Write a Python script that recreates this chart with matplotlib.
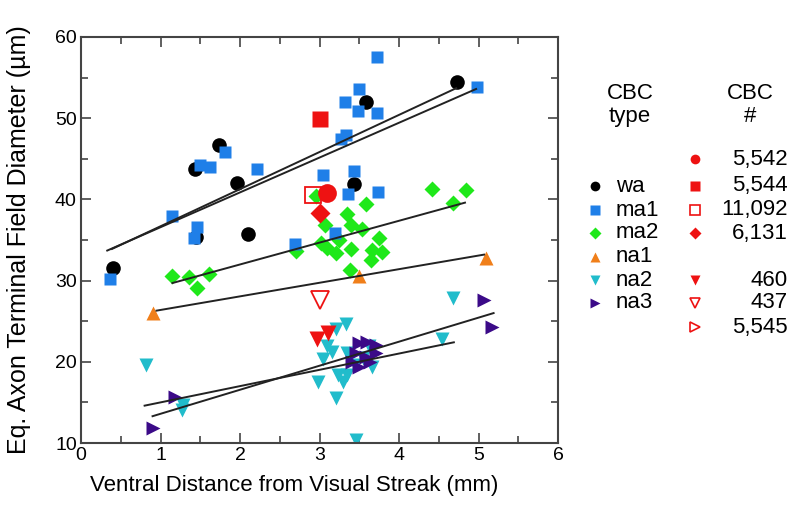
import matplotlib
matplotlib.use("Agg")
import matplotlib.pyplot as plt
import numpy as np

plt.rcParams['font.family'] = ['Liberation Sans', 'DejaVu Sans']

# ---------------- data ----------------
wa_x = [0.40, 1.45, 2.10, 1.44, 1.74, 1.96, 3.43, 3.59, 4.73]
wa_y = [31.5, 35.4, 35.7, 43.7, 46.7, 42.0, 41.9, 52.0, 54.5]

ma1_x = [0.36, 1.15, 1.42, 1.46, 1.50, 1.62, 1.81, 2.21, 2.69, 3.05, 3.19, 3.27, 3.33,
         3.32, 3.36, 3.44, 3.49, 3.50, 3.72, 3.72, 3.73, 4.98]
ma1_y = [30.2, 37.9, 35.2, 36.6, 44.2, 44.0, 45.8, 43.7, 34.5, 43.0, 35.9, 47.5, 47.9,
         52.0, 40.7, 43.5, 50.9, 53.6, 57.5, 50.6, 40.9, 53.9]

ma2_x = [1.15, 1.36, 1.46, 1.61, 2.70, 2.95, 3.58, 3.35, 3.07, 3.40, 3.53, 3.25, 3.75,
         3.02, 3.10, 3.21, 3.39, 3.66, 3.79, 3.65, 3.38, 4.42, 4.84, 4.68]
ma2_y = [30.6, 30.4, 29.1, 30.8, 33.6, 40.4, 39.4, 38.2, 36.8, 36.8, 36.3, 35.0, 35.2,
         34.6, 34.0, 33.4, 33.9, 33.8, 33.5, 32.5, 31.3, 41.3, 41.2, 39.5]

na1_x = [0.90, 3.50, 5.09]
na1_y = [26.0, 30.6, 32.8]

na2_x = [0.82, 1.28, 1.27, 2.98, 3.05, 3.10, 3.16, 3.21, 3.33, 3.21, 3.23, 3.29, 3.35,
         3.35, 3.45, 3.55, 3.66, 3.62, 3.46, 4.54, 4.68]
na2_y = [19.6, 14.7, 14.1, 17.5, 20.3, 22.0, 21.2, 24.1, 24.6, 15.5, 18.4, 17.5, 18.4,
         21.1, 19.6, 20.5, 19.4, 22.0, 10.4, 22.8, 27.8]

na3_x = [0.90, 1.18, 3.41, 3.46, 3.50, 3.50, 3.59, 3.60, 3.63, 3.71, 3.71, 5.07, 5.17]
na3_y = [11.9, 15.7, 20.0, 21.1, 22.3, 19.4, 20.6, 22.4, 20.0, 22.1, 21.1, 27.6, 24.3]

# fit lines (endpoints)
fit_wa_x = [0.39, 4.72];  fit_wa_y = [33.9, 53.7]
fit_ma1_x = [0.33, 4.97]; fit_ma1_y = [33.7, 53.6]
fit_ma2_x = [1.15, 4.83]; fit_ma2_y = [29.7, 39.6]
fit_na1_x = [0.95, 5.07]; fit_na1_y = [26.3, 33.2]
fit_na2_x = [0.80, 4.69]; fit_na2_y = [14.6, 22.4]
fit_na3_x = [0.90, 5.19]; fit_na3_y = [13.3, 26.0]

# identified cells (CBC #)
c5542_x, c5542_y = [3.10], [40.8]
c5544_x, c5544_y = [3.00], [49.9]
c11092_x, c11092_y = [2.92], [40.6]
c6131_x, c6131_y = [3.00], [38.3]
c460_x, c460_y = [2.97, 3.11], [22.8, 23.6]
c437_x, c437_y = [3.00], [27.6]

type_labels = ['wa', 'ma1', 'ma2', 'na1', 'na2', 'na3']
cbc_labels = ['5,542', '5,544', '11,092', '6,131', '460', '437', '5,545']

# ---------------- styles ----------------
C_WA = 'black'
C_MA1 = '#1f7fe8'
C_MA2 = '#1fe81a'
C_NA1 = '#f07f1a'
C_NA2 = '#21bccb'
C_NA3 = '#3b0a88'
C_RED = '#ee1212'

fig = plt.figure(figsize=(8, 5.15), dpi=100)
ax = fig.add_axes([81/800, 72/515, 477/800, 406/515])

for fx, fy in [(fit_wa_x, fit_wa_y), (fit_ma1_x, fit_ma1_y), (fit_ma2_x, fit_ma2_y),
               (fit_na1_x, fit_na1_y), (fit_na2_x, fit_na2_y), (fit_na3_x, fit_na3_y)]:
    ax.plot(fx, fy, color='#222222', lw=1.4, zorder=3)

ax.plot(ma2_x, ma2_y, 'D', color=C_MA2, ms=8.5, mec='none', zorder=2)
ax.plot(wa_x, wa_y, 'o', color=C_WA, ms=10.5, mec='none', zorder=2)
ax.plot(ma1_x, ma1_y, 's', color=C_MA1, ms=8.5, mec='none', zorder=2)
ax.plot(na1_x, na1_y, '^', color=C_NA1, ms=10.5, mec='none', zorder=2)
ax.plot(na2_x, na2_y, 'v', color=C_NA2, ms=10.5, mec='none', zorder=2)
ax.plot(na3_x, na3_y, '>', color=C_NA3, ms=10.5, mec='none', zorder=2)

ax.plot(c5542_x, c5542_y, 'o', color=C_RED, ms=13.5, mec='none', zorder=4)
ax.plot(c5544_x, c5544_y, 's', color=C_RED, ms=12, mec='none', zorder=4)
ax.plot(c11092_x, c11092_y, 's', mfc='none', mec=C_RED, mew=1.3, ms=12, zorder=4)
ax.plot(c6131_x, c6131_y, 'D', color=C_RED, ms=10, mec='none', zorder=4)
ax.plot(c460_x, c460_y, 'v', color=C_RED, ms=12, mec='none', zorder=4)
ax.plot(c437_x, c437_y, 'v', mfc='none', mec=C_RED, mew=1.3, ms=13, zorder=4)

ax.set_xlim(0, 6)
ax.set_ylim(10, 60)
ax.set_xticks(np.arange(0, 7, 1))
ax.set_yticks(np.arange(10, 61, 10))
ax.set_xticks(np.arange(0, 6.01, 0.5), minor=True)
ax.set_yticks(np.arange(10, 60.1, 5), minor=True)
ax.tick_params(which='both', direction='in', top=True, right=True,
               color='#444444', width=1.2, labelsize=14, pad=3)
ax.tick_params(which='major', length=7)
ax.tick_params(which='minor', length=5)
for s in ax.spines.values():
    s.set_color('#444444')
    s.set_linewidth(1.5)

ax.set_xlabel('Ventral Distance from Visual Streak (mm)', fontsize=16)
ax.xaxis.set_label_coords(0.447, -0.080)
ax.set_ylabel('Eq. Axon Terminal Field Diameter (\u00b5m)', fontsize=18)
ax.yaxis.set_label_coords(-0.105, 0.5)

# ---------------- legend (pixel coordinates) ----------------
lg = fig.add_axes([0, 0, 1, 1], facecolor='none')
lg.set_xlim(0, 800)
lg.set_ylim(515, 0)
lg.axis('off')

lg.text(630, 105, 'CBC\ntype', ha='center', va='center', fontsize=16, linespacing=1.1)
lg.text(750, 105, 'CBC\n#', ha='center', va='center', fontsize=16, linespacing=1.1)

type_y = [186, 210, 233, 257, 280, 303]
type_marker = ['o', 's', 'D', '^', 'v', '>']
type_color = [C_WA, C_MA1, C_MA2, C_NA1, C_NA2, C_NA3]
for lab, yy, mk, cc in zip(type_labels, type_y, type_marker, type_color):
    lg.plot([595], [yy], mk, color=cc, ms=7 if mk != 'D' else 6, mec='none')
    lg.text(616, yy, lab, ha='left', va='center', fontsize=16)

cbc_y = [159, 186, 210, 233, 280, 303, 327]
cbc_marker = ['o', 's', 's', 'D', 'v', 'v', '>']
cbc_filled = [True, True, False, True, True, False, False]
for lab, yy, mk, fill in zip(cbc_labels, cbc_y, cbc_marker, cbc_filled):
    if fill:
        lg.plot([695], [yy], mk, color=C_RED, ms=7 if mk != 'D' else 6, mec='none')
    else:
        lg.plot([695], [yy], mk, mfc='none', mec=C_RED, mew=1.2, ms=7)
    lg.text(788, yy, lab, ha='right', va='center', fontsize=16)

fig.savefig('out.png', dpi=100)
